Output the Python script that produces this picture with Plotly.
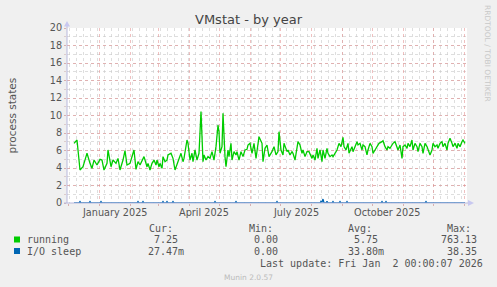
import plotly.graph_objects as go
import pandas as pd

# ---------------- data ----------------
base_date = "2025-01-01"

run_days = [-25, -22, -19, -16, -13, -12, -9, -7, -5, -2,
            1, 3, 5, 8, 9, 12, 14, 17, 19, 21,
            24, 26, 28, 31, 34, 35, 37, 39, 41, 43,
            45, 48, 49, 51, 53, 55, 57, 58, 60, 61,
            63, 64, 66, 68, 69, 72, 74, 76, 78, 80,
            82, 84, 85, 88, 89, 91, 93, 94, 96, 98,
            100, 102, 104, 105, 107, 109, 111, 113, 115, 117,
            119, 120, 121, 123, 124, 126, 127, 129, 130, 132,
            133, 135, 137, 138, 140, 142, 144, 146, 148, 149,
            151, 153, 155, 157, 160, 163, 164, 166, 168, 170,
            173, 175, 177, 179, 180, 182, 184, 185, 188, 189,
            191, 193, 194, 196, 198, 199, 201, 203, 204, 206,
            208, 210, 213, 214, 216, 218, 219, 221, 223, 224,
            226, 228, 229, 231, 233, 234, 236, 238, 240, 242,
            244, 245, 247, 249, 250, 253, 254, 256, 258, 259,
            261, 263, 264, 266, 268, 269, 271, 273, 274, 276,
            278, 280, 283, 284, 286, 288, 289, 291, 293, 294,
            296, 298, 299, 301, 303, 304, 306, 308, 309, 311,
            313, 314, 316, 318, 319, 321, 323, 324, 326, 328,
            329, 331, 333, 334, 336, 338, 339, 341, 343, 344,
            346, 348, 349, 351, 353, 354, 356, 358, 359, 361,
            363, 364, 366]

running = [6.82, 7.20, 3.77, 4.15, 5.30, 5.68, 4.53, 3.96, 4.91, 4.34,
           4.99, 4.91, 3.77, 4.53, 6.06, 4.15, 4.91, 4.53, 5.10, 3.77,
           4.91, 5.98, 4.34, 4.53, 5.68, 6.06, 3.85, 4.72, 4.34, 4.91,
           5.30, 4.15, 4.53, 3.77, 4.53, 4.91, 4.34, 4.91, 4.15, 4.53,
           3.96, 5.30, 4.72, 4.91, 5.49, 5.68, 5.10, 3.77, 4.34, 4.91,
           5.68, 4.72, 5.10, 7.20, 6.82, 4.91, 5.68, 4.72, 6.06, 4.91,
           5.68, 10.44, 4.72, 5.49, 4.91, 5.30, 5.10, 5.87, 4.91, 6.44,
           8.91, 8.15, 5.68, 6.44, 10.25, 5.30, 4.15, 6.06, 5.30, 6.82,
           4.91, 5.87, 5.49, 5.87, 4.91, 5.87, 5.30, 6.06, 6.13, 6.63,
           6.82, 5.68, 6.82, 5.10, 7.58, 6.82, 4.72, 6.25, 6.63, 5.30,
           5.87, 6.44, 5.49, 5.87, 8.15, 6.06, 5.49, 6.82, 5.87, 6.06,
           5.49, 5.87, 5.68, 4.91, 6.06, 7.01, 6.63, 5.68, 6.06, 5.30,
           5.87, 5.87, 5.10, 5.49, 4.91, 6.25, 5.10, 6.06, 4.72, 6.06,
           5.10, 6.25, 5.68, 5.30, 5.49, 5.30, 5.68, 6.06, 6.82, 6.44,
           7.50, 6.44, 6.06, 6.82, 5.68, 6.44, 5.87, 6.44, 7.01, 6.63,
           6.82, 6.06, 6.63, 6.44, 5.49, 6.06, 6.82, 6.44, 5.68, 6.06,
           6.44, 6.82, 7.01, 7.12, 6.44, 6.06, 6.44, 6.25, 6.63, 6.82,
           7.01, 6.44, 6.06, 6.63, 5.10, 6.44, 6.63, 6.25, 6.82, 6.44,
           7.20, 6.06, 6.82, 6.44, 5.87, 6.82, 6.44, 5.68, 6.82, 6.44,
           6.06, 5.49, 6.06, 6.82, 6.44, 6.63, 6.25, 6.82, 7.01, 6.44,
           6.82, 6.06, 6.82, 7.39, 6.82, 6.44, 6.82, 6.25, 6.82, 6.44,
           7.01, 7.20, 6.82]

io_days = [-25, -20, -19, -18, -10, -9, -8, 1, 2, 3,
           38, 39, 40, 43, 44, 45, 63, 64, 65, 67,
           68, 69, 73, 74, 75, 115, 116, 117, 136, 137,
           138, 177, 178, 179, 221, 222, 223, 224, 225, 227,
           228, 229, 233, 234, 235, 240, 241, 242, 247, 248,
           249, 282, 283, 284, 286, 287, 288, 326, 327, 328,
           366]
io_sleep = [0, 0, 0.15, 0, 0, 0.15, 0, 0, 0.15, 0,
            0, 0.15, 0, 0, 0.15, 0, 0, 0.15, 0, 0,
            0.15, 0, 0, 0.15, 0, 0, 0.15, 0, 0, 0.15,
            0, 0, 0.15, 0, 0, 0.2, 0.1, 0.45, 0, 0,
            0.2, 0, 0, 0.15, 0, 0, 0.15, 0, 0, 0.15,
            0, 0, 0.15, 0, 0, 0.15, 0, 0, 0.15, 0,
            0]

series_names = ["running", "I/O sleep"]
series_colors = ["#00CC00", "#0066B3"]
cur_vals = ["7.25", "27.47m"]
min_vals = ["0.00", "0.00"]
avg_vals = ["5.75", "33.80m"]
max_vals = ["763.13", "38.35"]

x_labels = ["January 2025", "April 2025", "July 2025", "October 2025"]
x_label_at = ["2025-01-16 12:00", "2025-04-16", "2025-07-16 12:00", "2025-10-16 12:00"]

assert len(run_days) == len(running)
assert len(io_days) == len(io_sleep)

b = pd.Timestamp(base_date)
run_x = b + pd.to_timedelta(run_days, unit="D")
io_x = b + pd.to_timedelta(io_days, unit="D")

# ---------------- layout helpers (pixels -> paper) ----------------
W, H = 497, 287
L, R, T, B = 67, 467, 28, 203


def px(x):
    return (x - L) / (R - L)


def py(y):
    return (B - y) / (B - T)


SANS = "DejaVu Sans"
MONO = "DejaVu Sans Mono"
TXT = "#555555"

fig = go.Figure()
fig.add_trace(go.Scatter(x=run_x, y=running, mode="lines", name=series_names[0],
                         line=dict(color=series_colors[0], width=1.3), showlegend=False,
                         hoverinfo="skip"))
fig.add_trace(go.Scatter(x=io_x, y=io_sleep, mode="lines", name=series_names[1],
                         line=dict(color=series_colors[1], width=1.3), showlegend=False,
                         hoverinfo="skip"))

month_starts = pd.date_range("2024-12-01", "2026-01-01", freq="MS")
red_grid = "rgba(225,140,140,0.55)"
grey_grid = "rgba(200,200,200,0.6)"

fig.update_layout(
    width=W, height=H,
    margin=dict(l=L, r=W - R, t=T, b=H - B, pad=0),
    paper_bgcolor="#F0F0F0", plot_bgcolor="#FFFFFF",
    font=dict(family=SANS, size=10, color=TXT),
    xaxis=dict(type="date", range=["2024-11-30", "2026-01-04"],
               tickmode="array", tickvals=list(month_starts),
               ticktext=[""] * len(month_starts),
               showgrid=True, gridcolor=red_grid, griddash="dot", gridwidth=1,
               ticks="outside", ticklen=2, tickcolor="#D8B0B0",
               showline=False, zeroline=False,
               minor=dict(dtick=7 * 86400000, tick0="2024-12-02", showgrid=True,
                          gridcolor=grey_grid, griddash="dot", gridwidth=1, ticks="")),
    yaxis=dict(range=[0, 20], tickmode="array", tickvals=list(range(0, 21, 2)),
               showgrid=True, gridcolor=red_grid, griddash="dot", gridwidth=1,
               ticks="outside", ticklen=2, tickcolor="#D8B0B0",
               tickfont=dict(family=SANS, size=9.7, color=TXT),
               showline=False, zeroline=False,
               minor=dict(dtick=1, showgrid=True, gridcolor=grey_grid, griddash="dot",
                          gridwidth=1, ticks="outside", ticklen=2, tickcolor="#DCCCCC")),
)

shapes = []
axis_col = "#B8B8DC"
# axis lines
shapes.append(dict(type="line", xref="paper", yref="paper", x0=px(67), x1=px(67),
                   y0=py(203), y1=py(25), line=dict(color=axis_col, width=1)))
shapes.append(dict(type="line", xref="paper", yref="paper", x0=px(64), x1=px(470),
                   y0=py(203), y1=py(203), line=dict(color=axis_col, width=1)))
# arrows
shapes.append(dict(type="path", xref="paper", yref="paper",
                   path=f"M {px(64)} {py(26.5)} L {px(70)} {py(26.5)} L {px(67)} {py(21)} Z",
                   fillcolor="#C8C8F0", line=dict(width=0)))
shapes.append(dict(type="path", xref="paper", yref="paper",
                   path=f"M {px(468)} {py(200)} L {px(468)} {py(206)} L {px(474)} {py(203)} Z",
                   fillcolor="#C8C8F0", line=dict(width=0)))

ann = []
# title
ann.append(dict(text="VMstat - by year", x=px(248.5), y=py(19.5), xref="paper", yref="paper",
                xanchor="center", yanchor="middle", showarrow=False,
                font=dict(family=SANS, size=13, color="#444444")))
# y title
ann.append(dict(text="process states", x=px(11), y=py(115.5), xref="paper", yref="paper",
                xanchor="center", yanchor="middle", textangle=-90, showarrow=False,
                font=dict(family=SANS, size=10.5, color=TXT)))
# rrdtool watermark
ann.append(dict(text="RRDTOOL / TOBI OETIKER", x=px(487.5), y=py(53.5), xref="paper", yref="paper",
                xanchor="center", yanchor="middle", textangle=90, showarrow=False,
                font=dict(family=SANS, size=7.5, color="#C8C8C8")))
# x tick labels (month labels centred on their month)
for lab, at in zip(x_labels, x_label_at):
    ann.append(dict(text=lab, x=at, y=py(212.5), xref="x", yref="paper",
                    xanchor="center", yanchor="middle", showarrow=False,
                    font=dict(family=SANS, size=9.7, color=TXT)))


def mono(text, xr, yc, anchor="right", color=TXT, size=10, family=MONO):
    ann.append(dict(text=text, x=px(xr), y=py(yc), xref="paper", yref="paper",
                    xanchor=anchor, yanchor="middle", showarrow=False,
                    borderpad=0, borderwidth=0,
                    font=dict(family=family, size=size, color=color)))


# legend header
row_y = [239.5, 251]
mono("Cur:", 173, 228)
mono("Min:", 272.5, 228)
mono("Avg:", 371.5, 228)
mono("Max:", 470.5, 228)
for i in range(2):
    yc = row_y[i]
    shapes.append(dict(type="rect", xref="paper", yref="paper",
                       x0=px(14), x1=px(20), y0=py(yc - 3), y1=py(yc + 3),
                       fillcolor=series_colors[i], line=dict(width=0)))
    mono(series_names[i], 27, yc, anchor="left")
    suffix_pad = [0 if v.endswith("m") else 6 for v in [cur_vals[i], min_vals[i], avg_vals[i], max_vals[i]]]
    mono(cur_vals[i], 184 - suffix_pad[0], yc)
    mono(min_vals[i], 284 - suffix_pad[1], yc)
    mono(avg_vals[i], 384 - suffix_pad[2], yc)
    mono(max_vals[i], 483 - suffix_pad[3], yc)

mono("Last update: Fri Jan  2 00:00:07 2026".replace("  ", "\u00a0 "), 482.5, 263)
mono("Munin 2.0.57", 248, 277, anchor="center", color="#BBBBBB", size=7.5, family=SANS)

fig.update_layout(shapes=shapes, annotations=ann)
fig.write_html("out.html")
